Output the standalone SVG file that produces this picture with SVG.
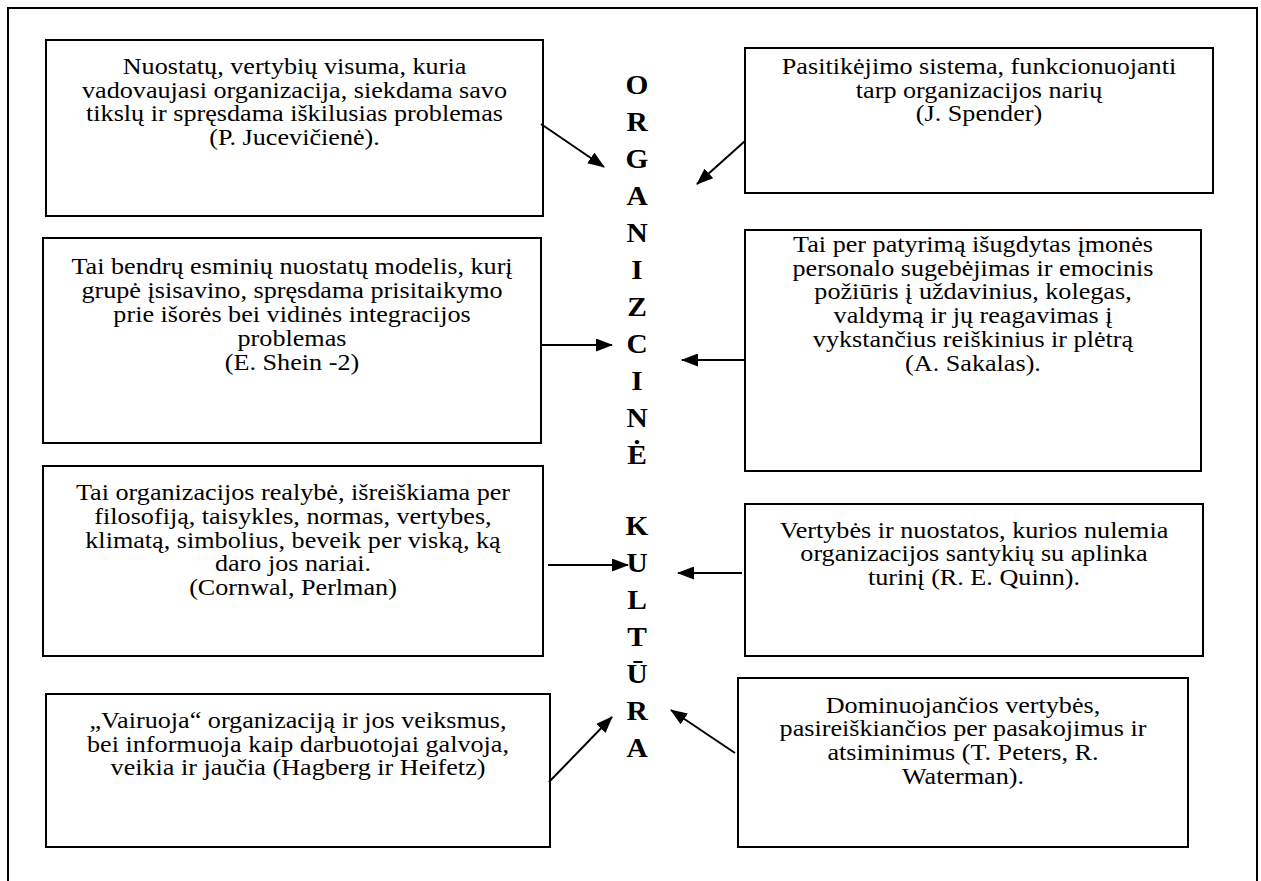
<svg xmlns="http://www.w3.org/2000/svg" width="1261" height="881" viewBox="0 0 1261 881">
  <style>
    .box { fill: #ffffff; stroke: #000000; stroke-width: 2; }
    .frame { fill: none; stroke: #000000; stroke-width: 2; }
    .txt { font-family: "Liberation Serif", "Times New Roman", serif; font-size: 24px; fill: #000000; text-anchor: middle; }
    .title { font-family: "Liberation Serif", "Times New Roman", serif; font-size: 27.5px; font-weight: bold; fill: #000000; text-anchor: middle; }
    .conn { stroke: #000000; stroke-width: 2; fill: none; marker-end: url(#head); }
  </style>
  <defs>
    <marker id="head" markerUnits="userSpaceOnUse" markerWidth="17" markerHeight="13" refX="16" refY="6.5" orient="auto">
      <path d="M0,0 L17,6.5 L0,13 z" fill="#000000"/>
    </marker>
  </defs>

  <rect width="1261" height="881" fill="#ffffff"/>
  <!-- page frame, open at the bottom -->
  <path class="frame" d="M8,881 V8 H1257 V881"/>

  <!-- central vertical title, one letter per line -->
  <g id="title" class="title" transform="translate(637 0) scale(1.07 1)">
    <text x="0" y="94">O</text>
    <text x="0" y="131">R</text>
    <text x="0" y="168">G</text>
    <text x="0" y="205">A</text>
    <text x="0" y="242">N</text>
    <text x="0" y="279">I</text>
    <text x="0" y="316">Z</text>
    <text x="0" y="353">C</text>
    <text x="0" y="390">I</text>
    <text x="0" y="427">N</text>
    <text x="0" y="464">Ė</text>
    <text x="0" y="535">K</text>
    <text x="0" y="572">U</text>
    <text x="0" y="609">L</text>
    <text x="0" y="646">T</text>
    <text x="0" y="683">Ū</text>
    <text x="0" y="720">R</text>
    <text x="0" y="757">A</text>
  </g>

  <g id="def-juceviciene">
    <rect class="box" x="46" y="40" width="497" height="176"/>
    <g class="txt" transform="translate(294.5 0) scale(1.09 1)">
      <text x="0" y="74">Nuostatų, vertybių visuma, kuria</text>
      <text x="0" y="98">vadovaujasi organizacija, siekdama savo</text>
      <text x="0" y="121">tikslų ir spręsdama iškilusias problemas</text>
      <text x="0" y="145">(P. Jucevičienė).</text>
    </g>
  </g>

  <g id="def-spender">
    <rect class="box" x="745" y="48" width="468" height="145"/>
    <g class="txt" transform="translate(979 0) scale(1.09 1)">
      <text x="0" y="74">Pasitikėjimo sistema, funkcionuojanti</text>
      <text x="0" y="98">tarp organizacijos narių</text>
      <text x="0" y="121">(J. Spender)</text>
    </g>
  </g>

  <g id="def-shein">
    <rect class="box" x="43" y="238" width="498" height="205"/>
    <g class="txt" transform="translate(292 0) scale(1.09 1)">
      <text x="0" y="274">Tai bendrų esminių nuostatų modelis, kurį</text>
      <text x="0" y="298">grupė įsisavino, spręsdama prisitaikymo</text>
      <text x="0" y="322">prie išorės bei vidinės integracijos</text>
      <text x="0" y="346">problemas</text>
      <text x="0" y="370">(E. Shein -2)</text>
    </g>
  </g>

  <g id="def-sakalas">
    <rect class="box" x="745" y="230" width="456" height="241"/>
    <g class="txt" transform="translate(973 0) scale(1.09 1)">
      <text x="0" y="252">Tai per patyrimą išugdytas įmonės</text>
      <text x="0" y="276">personalo sugebėjimas ir emocinis</text>
      <text x="0" y="299">požiūris į uždavinius, kolegas,</text>
      <text x="0" y="323">valdymą ir jų reagavimas į</text>
      <text x="0" y="347">vykstančius reiškinius ir plėtrą</text>
      <text x="0" y="371">(A. Sakalas).</text>
    </g>
  </g>

  <g id="def-cornwal">
    <rect class="box" x="43" y="466" width="500" height="190"/>
    <g class="txt" transform="translate(293 0) scale(1.09 1)">
      <text x="0" y="500">Tai organizacijos realybė, išreiškiama per</text>
      <text x="0" y="524">filosofiją, taisykles, normas, vertybes,</text>
      <text x="0" y="548">klimatą, simbolius, beveik per viską, ką</text>
      <text x="0" y="571">daro jos nariai.</text>
      <text x="0" y="595">(Cornwal, Perlman)</text>
    </g>
  </g>

  <g id="def-quinn">
    <rect class="box" x="745" y="504" width="458" height="152"/>
    <g class="txt" transform="translate(974 0) scale(1.09 1)">
      <text x="0" y="538">Vertybės ir nuostatos, kurios nulemia</text>
      <text x="0" y="561">organizacijos santykių su aplinka</text>
      <text x="0" y="585">turinį (R. E. Quinn).</text>
    </g>
  </g>

  <g id="def-hagberg">
    <rect class="box" x="46" y="694" width="504" height="153"/>
    <g class="txt" transform="translate(298 0) scale(1.09 1)">
      <text x="0" y="728">„Vairuoja“ organizaciją ir jos veiksmus,</text>
      <text x="0" y="752">bei informuoja kaip darbuotojai galvoja,</text>
      <text x="0" y="775">veikia ir jaučia (Hagberg ir Heifetz)</text>
    </g>
  </g>

  <g id="def-peters">
    <rect class="box" x="738" y="678" width="450" height="169"/>
    <g class="txt" transform="translate(963 0) scale(1.09 1)">
      <text x="0" y="713">Dominuojančios vertybės,</text>
      <text x="0" y="736">pasireiškiančios per pasakojimus ir</text>
      <text x="0" y="760">atsiminimus (T. Peters, R.</text>
      <text x="0" y="784">Waterman).</text>
    </g>
  </g>

  <!-- arrows pointing at the title -->
  <g id="connectors">
    <line class="conn" x1="541" y1="124" x2="604" y2="167"/>
    <line class="conn" x1="745" y1="141" x2="697" y2="184"/>
    <line class="conn" x1="541" y1="345" x2="612" y2="345"/>
    <line class="conn" x1="745" y1="360" x2="682" y2="360"/>
    <line class="conn" x1="548" y1="565" x2="628" y2="565"/>
    <line class="conn" x1="742" y1="573" x2="678" y2="573"/>
    <line class="conn" x1="549" y1="782" x2="612" y2="717"/>
    <line class="conn" x1="735" y1="753" x2="671" y2="710"/>
  </g>
</svg>
